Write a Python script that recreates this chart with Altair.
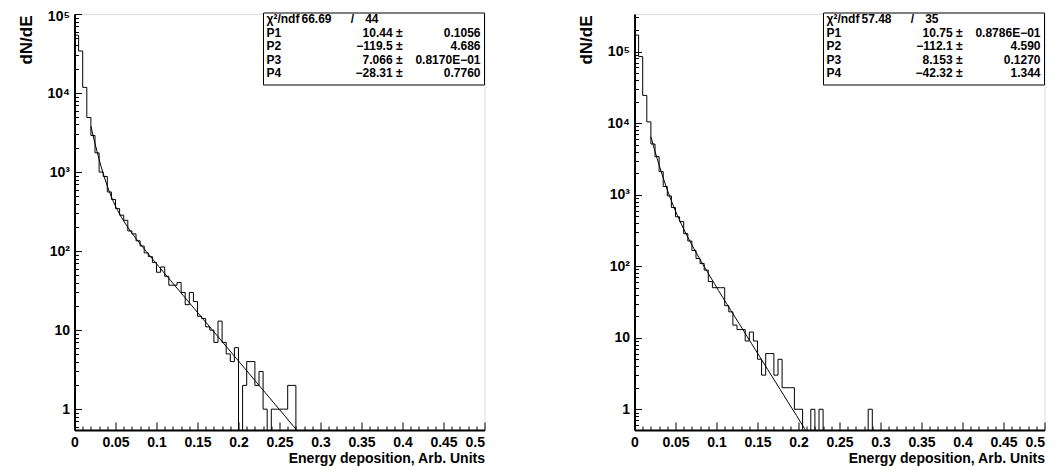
import altair as alt
import pandas as pd

FONT = "Liberation Sans"
W, H = 410, 416
X_MIN, X_MAX, BIN_W = 0.0, 0.5, 0.005

# ---------------- data ----------------
left_counts = [54000, 34000, 11800, 4900, 2900, 1750, 1000, 880, 560, 450,
               345, 285, 245, 180, 165, 135, 116, 95, 85, 72,
               54, 63, 48, 37, 37, 40, 30, 21, 30, 23,
               15, 14, 11, 10, 7, 13, 7, 5, 4, 6,
               0, 2, 4, 4, 2, 3, 1, 0, 1, 1,
               1, 1, 2, 2] + [0] * 46

right_counts = [170000, 85000, 24400, 10400, 5100, 3400, 2100, 1300, 960, 660,
                490, 420, 285, 225, 166, 128, 109, 88, 61, 50,
                50, 50, 28, 23, 15, 13, 13, 9, 12, 9,
                5, 3, 6, 6, 3, 5, 2, 2, 2, 1,
                1, 0, 0, 1, 0, 1, 0, 0, 0, 0,
                0, 0, 0, 0, 0, 0, 0, 1] + [0] * 42

left_fit_x = [0.02, 0.0225, 0.0275, 0.0325, 0.0375, 0.0425, 0.0475, 0.0525, 0.0575,
              0.0625, 0.0675, 0.0725, 0.0775, 0.0825, 0.0875, 0.0925, 0.0975,
              0.1025, 0.1075, 0.1125, 0.1175, 0.1225, 0.1275, 0.1325, 0.1375,
              0.1425, 0.1475, 0.1525, 0.1575, 0.1625, 0.1675, 0.1725, 0.1775,
              0.1825, 0.1875, 0.1925, 0.1975, 0.2025, 0.2075, 0.2125, 0.2175,
              0.2225, 0.2275, 0.2325, 0.2375, 0.2425, 0.2475, 0.2525, 0.2575,
              0.2625, 0.2675, 0.2725, 0.2775]
left_fit_y = [3799, 2943, 1816, 1170, 792, 565, 422, 329, 265,
              219, 184, 156, 134, 115, 99, 86, 74.1,
              64.3, 55.8, 48.5, 42.1, 36.5, 31.7, 27.5, 23.9,
              20.7, 18.0, 15.6, 13.5, 11.8, 10.2, 8.87, 7.7,
              6.68, 5.8, 5.03, 4.37, 3.79, 3.29, 2.86, 2.48,
              2.15, 1.87, 1.62, 1.41, 1.22, 1.06, 0.92, 0.80,
              0.69, 0.60, 0.52, 0.45]

right_fit_x = [0.02, 0.0225, 0.0275, 0.0325, 0.0375, 0.0425, 0.0475, 0.0525, 0.0575,
               0.0625, 0.0675, 0.0725, 0.0775, 0.0825, 0.0875, 0.0925, 0.0975,
               0.1025, 0.1075, 0.1125, 0.1175, 0.1225, 0.1275, 0.1325, 0.1375,
               0.1425, 0.1475, 0.1525, 0.1575, 0.1625, 0.1675, 0.1725, 0.1775,
               0.1825, 0.1875, 0.1925, 0.1975, 0.2025, 0.2075, 0.2125]
right_fit_y = [6444, 5088, 3225, 2100, 1409, 973, 693, 507, 379,
               289, 224, 176, 139, 110.5, 88.4, 70.9, 57.0,
               45.5, 36.8, 29.8, 24.1, 19.5, 15.8, 12.8, 10.3,
               8.36, 6.77, 5.48, 4.43, 3.59, 2.90, 2.35, 1.90,
               1.54, 1.24, 1.01, 0.82, 0.66, 0.535, 0.43]

left_ydomain = [0.545, 100000]
right_ydomain = [0.513, 335000]

left_stats = {"chi2": "66.69", "ndf": "44",
              "names": ["P1", "P2", "P3", "P4"],
              "values": ["10.44 \u00b1", "\u2212119.5 \u00b1", "7.066 \u00b1", "\u221228.31 \u00b1"],
              "errors": ["0.1056", "4.686", "0.8170E\u221201", "0.7760"]}
right_stats = {"chi2": "57.48", "ndf": "35",
               "names": ["P1", "P2", "P3", "P4"],
               "values": ["10.75 \u00b1", "\u2212112.1 \u00b1", "8.153 \u00b1", "\u221242.32 \u00b1"],
               "errors": ["0.8786E\u221201", "4.590", "0.1270", "1.344"]}

x_label_values = [0, 0.05, 0.1, 0.15, 0.2, 0.25, 0.3, 0.35, 0.4, 0.45, 0.5]
x_tick_values = [round(i * 0.01, 2) for i in range(51)]
y_label_values = [1, 10, 100, 1000, 10000, 100000]

X_TITLE = "Energy deposition, Arb. Units"
Y_TITLE = "dN/dE"

Y_LABEL_EXPR = ("datum.value == 100000 ? '10\u2075' : datum.value == 10000 ? '10\u2074' : "
                "datum.value == 1000 ? '10\u00b3' : datum.value == 100 ? '10\u00b2' : "
                "datum.value == 10 ? '10' : datum.value == 1 ? '1' : ''")
X_MAJOR_TEST = "abs(datum.value*20 - round(datum.value*20)) < 0.001"
Y_MAJOR_TEST = "abs(log(datum.value)/LN10 - round(log(datum.value)/LN10)) < 0.001"


def y_tick_values(lo, hi):
    vals = []
    for e in range(-1, 7):
        for m in range(1, 10):
            v = m * 10 ** e
            if lo <= v <= hi:
                vals.append(v)
    return vals


def hist_frame(counts):
    xs = [X_MIN] + [X_MIN + i * BIN_W for i in range(len(counts))] + [X_MAX]
    ns = [0] + list(counts) + [counts[-1]]
    return pd.DataFrame({"i": list(range(len(xs))), "x": xs, "n": ns})


def text_layer(s, px, py, align, size=12):
    return alt.Chart(pd.DataFrame({"t": [s]})).mark_text(
        align=align, baseline="middle", font=FONT, fontSize=size,
        fontWeight="bold", color="black"
    ).encode(text="t:N", x=alt.value(px), y=alt.value(py))


def panel(counts, fit_x, fit_y, ydom, stats, top_label_shift):
    xscale = alt.Scale(domain=[X_MIN, X_MAX], nice=False, zero=False)
    yscale = alt.Scale(type="log", domain=ydom, nice=False)

    hist = alt.Chart(hist_frame(counts)).transform_calculate(
        yv="datum.n > 0 ? datum.n : 0.01"
    ).mark_line(interpolate="step-after", color="black", strokeWidth=1, clip=True).encode(
        x=alt.X("x:Q", scale=xscale, axis=alt.Axis(
            orient="bottom", values=x_label_values, format="~g", ticks=False, tickSize=0,
            domainWidth=2, domainColor="black", grid=False,
            labelFont=FONT, labelFontSize=14, labelFontWeight="bold", labelColor="black",
            labelPadding=5, labelBaseline="top", labelOverlap=False, labelFlush=False,
            labelAlign={"condition": {"test": "datum.value >= 0.499", "value": "right"},
                        "value": "center"},
            title=X_TITLE, titleFont=FONT, titleFontSize=14, titleFontWeight="bold",
            titleColor="black", titleAnchor="end", titleAlign="right",
            titleBaseline="alphabetic", titleY=32)),
        y=alt.Y("yv:Q", scale=yscale, axis=alt.Axis(
            orient="left", values=y_label_values, labelExpr=Y_LABEL_EXPR,
            ticks=False, tickSize=0, domainWidth=2, domainColor="black", grid=False,
            labelFont=FONT, labelFontSize=14, labelFontWeight="bold", labelColor="black",
            labelPadding=5, labelBaseline="middle", labelOverlap=False, labelFlush=False,
            labelOffset={"condition": {"test": "datum.value >= 99999",
                                       "value": top_label_shift}, "value": 0},
            title=Y_TITLE, titleFont=FONT, titleFontSize=17, titleFontWeight="bold",
            titleColor="black", titleAnchor="end", titleAngle=270, titleAlign="right",
            titleBaseline="middle", titleX=-48, titleY=1)),
        order="i:Q",
    )

    fit = alt.Chart(pd.DataFrame({"fx": fit_x, "fy": fit_y})).mark_line(
        color="black", strokeWidth=1, clip=True, interpolate="monotone"
    ).encode(
        x=alt.X("fx:Q", scale=xscale, axis=alt.Axis(
            orient="top", offset=-H, values=x_tick_values, labels=False, domain=False,
            grid=False, ticks=True, tickColor="black", tickWidth=1,
            tickSize={"condition": {"test": X_MAJOR_TEST, "value": 8}, "value": 4},
            title=None)),
        y=alt.Y("fy:Q", scale=yscale, axis=alt.Axis(
            orient="right", offset=-W, values=y_tick_values(ydom[0], ydom[1]),
            labels=False, domain=False, grid=False, ticks=True, tickColor="black",
            tickWidth=1,
            tickSize={"condition": {"test": Y_MAJOR_TEST, "value": 7}, "value": 4},
            title=None)),
    )

    box = alt.Chart(pd.DataFrame({"a": [0]})).mark_rect(
        fill="white", stroke="black", strokeWidth=1
    ).encode(x=alt.value(189), x2=alt.value(W), y=alt.value(-1), y2=alt.value(71))

    rows = [5, 18.5, 32, 45.5, 59]
    texts = [
        text_layer("\u03c7\u00b2/ndf", 192, rows[0], "left"),
        text_layer(stats["chi2"], 227, rows[0], "left"),
        text_layer("/", 278, rows[0], "center"),
        text_layer(stats["ndf"], 304, rows[0], "right"),
    ]
    for k in range(4):
        texts.append(text_layer(stats["names"][k], 192, rows[k + 1], "left"))
        texts.append(text_layer(stats["values"][k], 328, rows[k + 1], "right"))
        texts.append(text_layer(stats["errors"][k], 406, rows[k + 1], "right"))

    return alt.layer(hist, fit, box, *texts).resolve_axis(
        x="independent", y="independent"
    ).properties(width=W, height=H)


left = panel(left_counts, left_fit_x, left_fit_y, left_ydomain, left_stats, 2)
right = panel(right_counts, right_fit_x, right_fit_y, right_ydomain, right_stats, 0)

chart = alt.hconcat(left, right, spacing=150, bounds="flush").properties(
    padding={"left": 8.5, "top": 0, "right": 0, "bottom": 0}
).configure_view(stroke="black", strokeWidth=1).configure(background="white")

chart.save("out.html", embed_options={"renderer": "svg", "actions": False})
